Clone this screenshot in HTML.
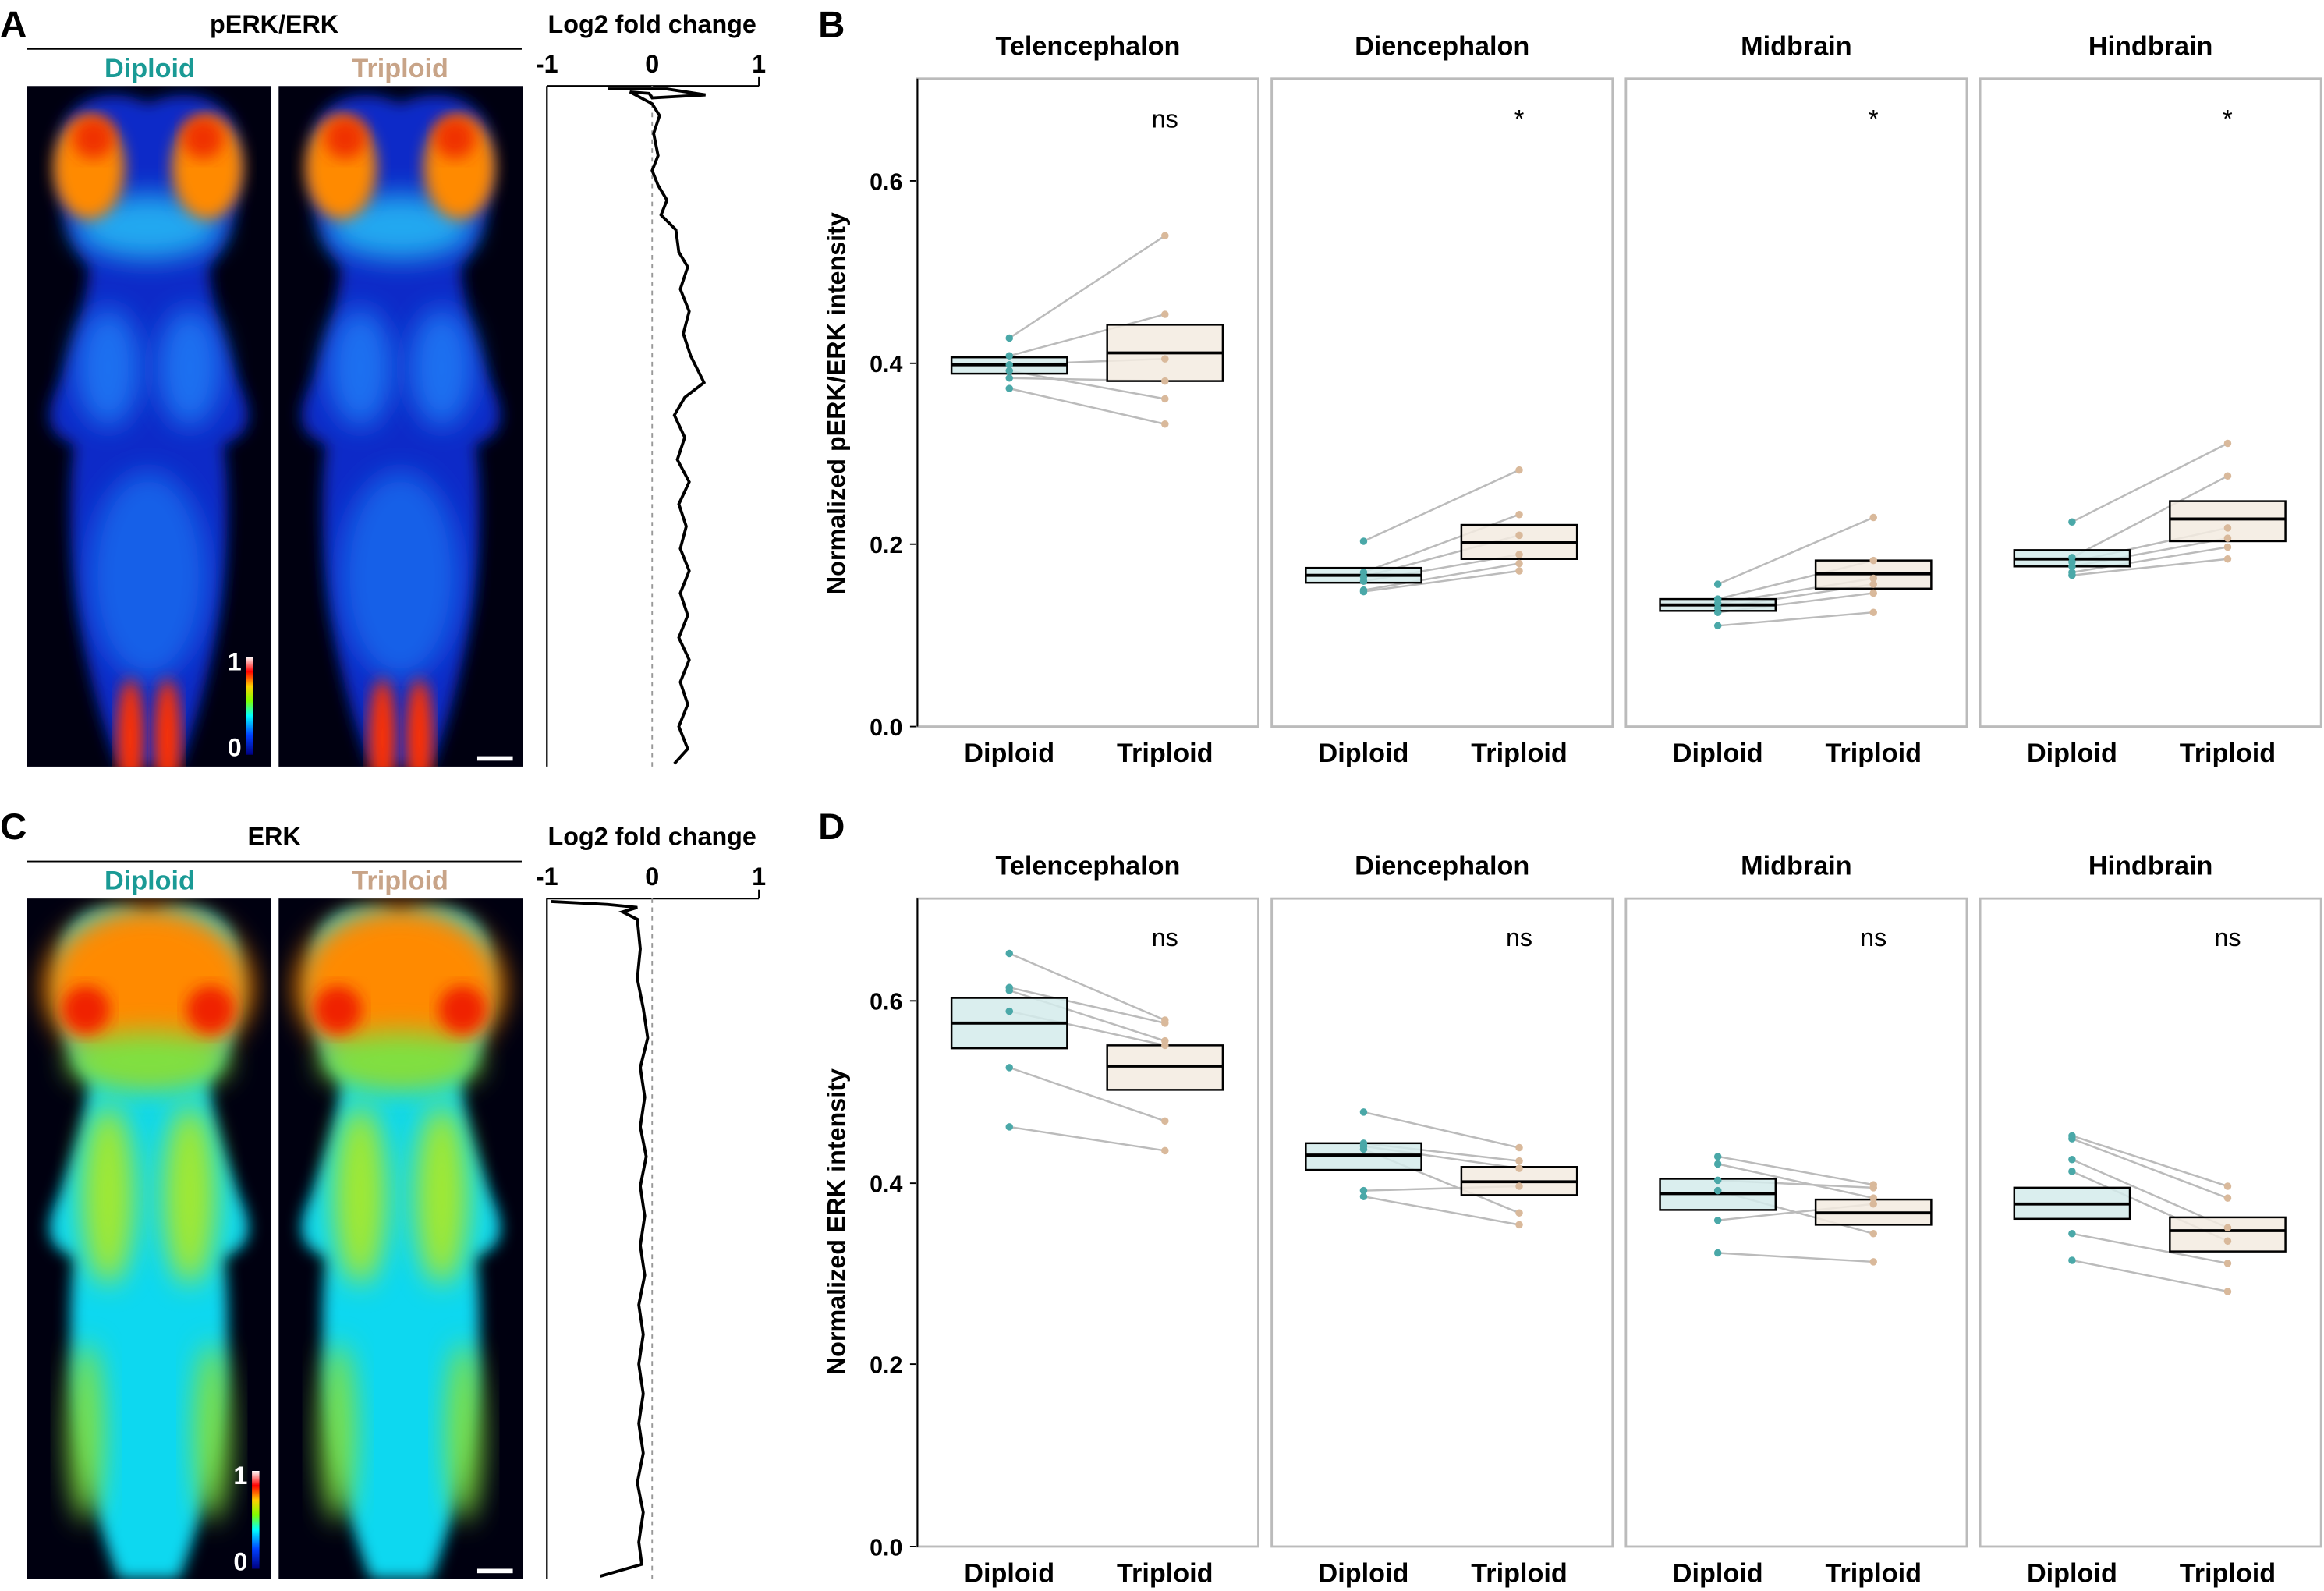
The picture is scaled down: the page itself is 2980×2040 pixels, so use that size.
<!DOCTYPE html>
<html><head><meta charset="utf-8"><style>
html,body{margin:0;padding:0;background:#fff;}
svg{display:block;}
text{font-family:"Liberation Sans",Arial,sans-serif;font-weight:bold;}
</style></head><body>
<svg width="2980" height="2040" viewBox="0 0 1568 1073" preserveAspectRatio="none" xmlns="http://www.w3.org/2000/svg">
<defs>
<filter id="bl" x="-20%" y="-20%" width="140%" height="140%"><feGaussianBlur stdDeviation="5"/></filter>
<filter id="bl2" x="-50%" y="-50%" width="200%" height="200%"><feGaussianBlur stdDeviation="9"/></filter>
<clipPath id="c1"><rect x="0" y="0" width="165" height="459"/></clipPath>
<linearGradient id="cb" x1="0" y1="1" x2="0" y2="0">
<stop offset="0" stop-color="#000080"/><stop offset="0.2" stop-color="#0040ff"/><stop offset="0.4" stop-color="#00ffff"/><stop offset="0.55" stop-color="#80ff00"/><stop offset="0.7" stop-color="#ffd000"/><stop offset="0.85" stop-color="#ff0000"/><stop offset="1" stop-color="#ffffff"/></linearGradient>
<path id="brain" d="M82 12 C60 0,25 5,22 40 C18 80,30 110,42 122 C40 150,32 170,22 200 C10 225,15 235,32 242 C25 300,32 380,62 459 L103 459 C133 380,140 300,133 242 C150 235,155 225,143 200 C133 170,125 150,123 122 C135 110,147 80,143 40 C140 5,105 0,82 12 Z"/>
<g id="perk">
<rect width="165" height="459" fill="#000010"/>
<g clip-path="url(#c1)">
<use href="#brain" fill="#0a2cc8" filter="url(#bl)"/>
<ellipse cx="55" cy="190" rx="22" ry="40" fill="#1a70f0" filter="url(#bl2)"/>
<ellipse cx="110" cy="190" rx="22" ry="40" fill="#1a70f0" filter="url(#bl2)"/>
<ellipse cx="82" cy="330" rx="40" ry="70" fill="#1660e8" filter="url(#bl2)"/>
<ellipse cx="82" cy="95" rx="50" ry="22" fill="#20a8f0" filter="url(#bl2)"/>
<ellipse cx="42" cy="55" rx="24" ry="35" fill="#ff8a00" filter="url(#bl)"/>
<ellipse cx="122" cy="55" rx="24" ry="35" fill="#ff8a00" filter="url(#bl)"/>
<ellipse cx="45" cy="35" rx="14" ry="14" fill="#f03000" filter="url(#bl)"/>
<ellipse cx="119" cy="35" rx="14" ry="14" fill="#f03000" filter="url(#bl)"/>
<ellipse cx="70" cy="440" rx="9" ry="40" fill="#ff3000" filter="url(#bl)"/>
<ellipse cx="95" cy="440" rx="9" ry="40" fill="#ff3000" filter="url(#bl)"/>
</g></g>
<g id="erk">
<rect width="165" height="459" fill="#000010"/>
<g clip-path="url(#c1)">
<use href="#brain" fill="#10d8f0" filter="url(#bl)"/>
<ellipse cx="82" cy="60" rx="70" ry="55" fill="#ff8a00" filter="url(#bl2)"/>
<ellipse cx="82" cy="110" rx="55" ry="20" fill="#80e040" filter="url(#bl2)"/>
<ellipse cx="40" cy="75" rx="16" ry="16" fill="#f02000" filter="url(#bl)"/>
<ellipse cx="124" cy="75" rx="16" ry="16" fill="#f02000" filter="url(#bl)"/>
<ellipse cx="55" cy="200" rx="18" ry="60" fill="#a0e830" filter="url(#bl2)"/>
<ellipse cx="110" cy="200" rx="18" ry="60" fill="#a0e830" filter="url(#bl2)"/>
<ellipse cx="40" cy="360" rx="12" ry="60" fill="#80e040" filter="url(#bl2)"/>
<ellipse cx="125" cy="360" rx="12" ry="60" fill="#80e040" filter="url(#bl2)"/>
</g></g>
</defs>

<!-- Panel A -->
<text x="0" y="25" font-size="25">A</text>
<text x="185" y="22" font-size="17" text-anchor="middle">pERK/ERK</text>
<line x1="18" y1="33" x2="352" y2="33" stroke="#000" stroke-width="1"/>
<text x="101" y="52" font-size="18" text-anchor="middle" fill="#1a9a95">Diploid</text>
<text x="270" y="52" font-size="18" text-anchor="middle" fill="#c8a488">Triploid</text>
<use href="#perk" x="18" y="58"/>
<use href="#perk" x="188" y="58"/>
<rect x="166" y="443" width="5" height="66" fill="url(#cb)"/>
<text x="163" y="452" font-size="17" text-anchor="end" fill="#fff">1</text>
<text x="163" y="510" font-size="17" text-anchor="end" fill="#fff">0</text>
<rect x="322" y="510" width="24" height="3" fill="#fff"/>
<text x="440" y="22" font-size="17" text-anchor="middle">Log2 fold change</text>
<text x="369" y="49" font-size="17" text-anchor="middle">-1</text>
<text x="440" y="49" font-size="17" text-anchor="middle">0</text>
<text x="512" y="49" font-size="17" text-anchor="middle">1</text>
<line x1="369" y1="58" x2="512" y2="58" stroke="#000" stroke-width="1.2"/>
<line x1="512" y1="52" x2="512" y2="58" stroke="#000"/>
<line x1="369" y1="58" x2="369" y2="517" stroke="#000" stroke-width="1.2"/>
<line x1="440" y1="58" x2="440" y2="517" stroke="#999" stroke-dasharray="3,3"/>
<polyline fill="none" stroke="#000" stroke-width="2" points="410,60 450,60 476,64 440,66 438,63 425,62 440,70 445,78 441,90 444,105 440,115 444,125 450,135 446,145 456,155 458,170 464,180 459,195 465,210 461,225 466,240 471,250 475,258 462,268 455,280 462,295 457,310 465,325 458,340 463,355 459,370 465,385 459,400 464,415 458,430 465,445 459,460 464,475 458,490 464,505 455,515"/>

<!-- Panel C -->
<text x="0" y="566" font-size="25">C</text>
<text x="185" y="570" font-size="17" text-anchor="middle">ERK</text>
<line x1="18" y1="581" x2="352" y2="581" stroke="#000" stroke-width="1"/>
<text x="101" y="600" font-size="18" text-anchor="middle" fill="#1a9a95">Diploid</text>
<text x="270" y="600" font-size="18" text-anchor="middle" fill="#c8a488">Triploid</text>
<use href="#erk" x="18" y="606"/>
<use href="#erk" x="188" y="606"/>
<rect x="170" y="992" width="5" height="66" fill="url(#cb)"/>
<text x="167" y="1001" font-size="17" text-anchor="end" fill="#fff">1</text>
<text x="167" y="1059" font-size="17" text-anchor="end" fill="#fff">0</text>
<rect x="322" y="1058" width="24" height="3" fill="#fff"/>
<text x="440" y="570" font-size="17" text-anchor="middle">Log2 fold change</text>
<text x="369" y="597" font-size="17" text-anchor="middle">-1</text>
<text x="440" y="597" font-size="17" text-anchor="middle">0</text>
<text x="512" y="597" font-size="17" text-anchor="middle">1</text>
<line x1="369" y1="606" x2="512" y2="606" stroke="#000" stroke-width="1.2"/>
<line x1="512" y1="600" x2="512" y2="606" stroke="#000"/>
<line x1="369" y1="606" x2="369" y2="1065" stroke="#000" stroke-width="1.2"/>
<line x1="440" y1="606" x2="440" y2="1065" stroke="#999" stroke-dasharray="3,3"/>
<polyline fill="none" stroke="#000" stroke-width="2" points="372,608 410,610 430,612 420,615 430,620 432,640 430,660 434,680 437,700 432,720 435,740 432,760 436,780 432,800 435,820 432,840 435,860 431,880 434,900 431,920 434,940 431,960 434,980 430,1000 434,1020 431,1040 433,1055 405,1063"/>

<!-- Panel B -->
<text x="552" y="25" font-size="25">B</text>
<text x="570" y="272" transform="rotate(-90 570 272)" text-anchor="middle" font-size="17">Normalized pERK/ERK intensity</text>
<g font-size="16" text-anchor="end">
<text x="609" y="496">0.0</text><text x="609" y="373">0.2</text><text x="609" y="251">0.4</text><text x="609" y="128">0.6</text>
</g>
<g stroke="#000"><line x1="614" y1="490" x2="619" y2="490"/><line x1="614" y1="367" x2="619" y2="367"/><line x1="614" y1="245" x2="619" y2="245"/><line x1="614" y1="122" x2="619" y2="122"/></g>

<!-- Panel D -->
<text x="552" y="566" font-size="25">D</text>
<text x="570" y="824" transform="rotate(-90 570 824)" text-anchor="middle" font-size="17">Normalized ERK intensity</text>
<g font-size="16" text-anchor="end">
<text x="609" y="1049">0.0</text><text x="609" y="926">0.2</text><text x="609" y="804">0.4</text><text x="609" y="681">0.6</text>
</g>
<g stroke="#000"><line x1="614" y1="1043" x2="619" y2="1043"/><line x1="614" y1="920" x2="619" y2="920"/><line x1="614" y1="798" x2="619" y2="798"/><line x1="614" y1="675" x2="619" y2="675"/></g>

<!-- Titles, frames, labels -->
<g font-size="18" text-anchor="middle">
<text x="734" y="37">Telencephalon</text><text x="973" y="37">Diencephalon</text><text x="1212" y="37">Midbrain</text><text x="1451" y="37">Hindbrain</text>
<text x="734" y="590">Telencephalon</text><text x="973" y="590">Diencephalon</text><text x="1212" y="590">Midbrain</text><text x="1451" y="590">Hindbrain</text>
<text x="681" y="514">Diploid</text><text x="786" y="514">Triploid</text>
<text x="920" y="514">Diploid</text><text x="1025" y="514">Triploid</text>
<text x="1159" y="514">Diploid</text><text x="1264" y="514">Triploid</text>
<text x="1398" y="514">Diploid</text><text x="1503" y="514">Triploid</text>
<text x="681" y="1067">Diploid</text><text x="786" y="1067">Triploid</text>
<text x="920" y="1067">Diploid</text><text x="1025" y="1067">Triploid</text>
<text x="1159" y="1067">Diploid</text><text x="1264" y="1067">Triploid</text>
<text x="1398" y="1067">Diploid</text><text x="1503" y="1067">Triploid</text>
</g>
<g font-size="17" text-anchor="middle">
<text x="786" y="86" style="font-weight:normal">ns</text>
<text x="1025" y="86" style="font-weight:normal">*</text>
<text x="1264" y="86" style="font-weight:normal">*</text>
<text x="1503" y="86" style="font-weight:normal">*</text>
<text x="786" y="638" style="font-weight:normal">ns</text>
<text x="1025" y="638" style="font-weight:normal">ns</text>
<text x="1264" y="638" style="font-weight:normal">ns</text>
<text x="1503" y="638" style="font-weight:normal">ns</text>
</g>
<g fill="none" stroke="#bbb" stroke-width="1.5">
<rect x="619" y="53" width="230" height="437"/><rect x="858" y="53" width="230" height="437"/><rect x="1097" y="53" width="230" height="437"/><rect x="1336" y="53" width="230" height="437"/>
<rect x="619" y="606" width="230" height="437"/><rect x="858" y="606" width="230" height="437"/><rect x="1097" y="606" width="230" height="437"/><rect x="1336" y="606" width="230" height="437"/>
</g>
<line x1="619" y1="53" x2="619" y2="490" stroke="#000"/><line x1="619" y1="606" x2="619" y2="1043" stroke="#000"/>

<!-- B Tel -->
<g transform="translate(619,0)">
<g stroke="#bbb" stroke-width="1.3"><line x1="62" y1="228" x2="167" y2="159"/><line x1="62" y1="240" x2="167" y2="212"/><line x1="62" y1="246" x2="167" y2="242"/><line x1="62" y1="250" x2="167" y2="269"/><line x1="62" y1="255" x2="167" y2="257"/><line x1="62" y1="262" x2="167" y2="286"/></g>
<rect x="23" y="241" width="78" height="11" fill="#d3ebeb" fill-opacity="0.85" stroke="#000" stroke-width="1.3"/><line x1="23" y1="246" x2="101" y2="246" stroke="#000" stroke-width="2"/>
<rect x="128" y="219" width="78" height="38" fill="#f3ebe1" fill-opacity="0.85" stroke="#000" stroke-width="1.3"/><line x1="128" y1="238" x2="206" y2="238" stroke="#000" stroke-width="2"/>
<g fill="#4aa8a8"><circle cx="62" cy="228" r="2.5"/><circle cx="62" cy="240" r="2.5"/><circle cx="62" cy="246" r="2.5"/><circle cx="62" cy="250" r="2.5"/><circle cx="62" cy="255" r="2.5"/><circle cx="62" cy="262" r="2.5"/></g>
<g fill="#d9b99b"><circle cx="167" cy="159" r="2.5"/><circle cx="167" cy="212" r="2.5"/><circle cx="167" cy="242" r="2.5"/><circle cx="167" cy="269" r="2.5"/><circle cx="167" cy="257" r="2.5"/><circle cx="167" cy="286" r="2.5"/></g>
</g>
<!-- B Dien -->
<g transform="translate(858,0)">
<g stroke="#bbb" stroke-width="1.3"><line x1="62" y1="365" x2="167" y2="317"/><line x1="62" y1="386" x2="167" y2="347"/><line x1="62" y1="389" x2="167" y2="361"/><line x1="62" y1="392" x2="167" y2="374"/><line x1="62" y1="398" x2="167" y2="380"/><line x1="62" y1="399" x2="167" y2="385"/></g>
<rect x="23" y="383" width="78" height="10" fill="#d3ebeb" fill-opacity="0.85" stroke="#000" stroke-width="1.3"/><line x1="23" y1="388" x2="101" y2="388" stroke="#000" stroke-width="2"/>
<rect x="128" y="354" width="78" height="23" fill="#f3ebe1" fill-opacity="0.85" stroke="#000" stroke-width="1.3"/><line x1="128" y1="366" x2="206" y2="366" stroke="#000" stroke-width="2"/>
<g fill="#4aa8a8"><circle cx="62" cy="365" r="2.5"/><circle cx="62" cy="386" r="2.5"/><circle cx="62" cy="389" r="2.5"/><circle cx="62" cy="392" r="2.5"/><circle cx="62" cy="398" r="2.5"/><circle cx="62" cy="399" r="2.5"/></g>
<g fill="#d9b99b"><circle cx="167" cy="317" r="2.5"/><circle cx="167" cy="347" r="2.5"/><circle cx="167" cy="361" r="2.5"/><circle cx="167" cy="374" r="2.5"/><circle cx="167" cy="380" r="2.5"/><circle cx="167" cy="385" r="2.5"/></g>
</g>
<!-- B Mid -->
<g transform="translate(1097,0)">
<g stroke="#bbb" stroke-width="1.3"><line x1="62" y1="394" x2="167" y2="349"/><line x1="62" y1="404" x2="167" y2="378"/><line x1="62" y1="407" x2="167" y2="390"/><line x1="62" y1="410" x2="167" y2="394"/><line x1="62" y1="413" x2="167" y2="400"/><line x1="62" y1="422" x2="167" y2="413"/></g>
<rect x="23" y="404" width="78" height="8" fill="#d3ebeb" fill-opacity="0.85" stroke="#000" stroke-width="1.3"/><line x1="23" y1="408" x2="101" y2="408" stroke="#000" stroke-width="2"/>
<rect x="128" y="378" width="78" height="19" fill="#f3ebe1" fill-opacity="0.85" stroke="#000" stroke-width="1.3"/><line x1="128" y1="387" x2="206" y2="387" stroke="#000" stroke-width="2"/>
<g fill="#4aa8a8"><circle cx="62" cy="394" r="2.5"/><circle cx="62" cy="404" r="2.5"/><circle cx="62" cy="407" r="2.5"/><circle cx="62" cy="410" r="2.5"/><circle cx="62" cy="413" r="2.5"/><circle cx="62" cy="422" r="2.5"/></g>
<g fill="#d9b99b"><circle cx="167" cy="349" r="2.5"/><circle cx="167" cy="378" r="2.5"/><circle cx="167" cy="390" r="2.5"/><circle cx="167" cy="394" r="2.5"/><circle cx="167" cy="400" r="2.5"/><circle cx="167" cy="413" r="2.5"/></g>
</g>
<!-- B Hind -->
<g transform="translate(1336,0)">
<g stroke="#bbb" stroke-width="1.3"><line x1="62" y1="352" x2="167" y2="299"/><line x1="62" y1="376" x2="167" y2="321"/><line x1="62" y1="379" x2="167" y2="356"/><line x1="62" y1="382" x2="167" y2="363"/><line x1="62" y1="386" x2="167" y2="369"/><line x1="62" y1="388" x2="167" y2="377"/></g>
<rect x="23" y="371" width="78" height="11" fill="#d3ebeb" fill-opacity="0.85" stroke="#000" stroke-width="1.3"/><line x1="23" y1="377" x2="101" y2="377" stroke="#000" stroke-width="2"/>
<rect x="128" y="338" width="78" height="27" fill="#f3ebe1" fill-opacity="0.85" stroke="#000" stroke-width="1.3"/><line x1="128" y1="350" x2="206" y2="350" stroke="#000" stroke-width="2"/>
<g fill="#4aa8a8"><circle cx="62" cy="352" r="2.5"/><circle cx="62" cy="376" r="2.5"/><circle cx="62" cy="379" r="2.5"/><circle cx="62" cy="382" r="2.5"/><circle cx="62" cy="386" r="2.5"/><circle cx="62" cy="388" r="2.5"/></g>
<g fill="#d9b99b"><circle cx="167" cy="299" r="2.5"/><circle cx="167" cy="321" r="2.5"/><circle cx="167" cy="356" r="2.5"/><circle cx="167" cy="363" r="2.5"/><circle cx="167" cy="369" r="2.5"/><circle cx="167" cy="377" r="2.5"/></g>
</g>

<!-- D Tel -->
<g transform="translate(619,0)">
<g stroke="#bbb" stroke-width="1.3"><line x1="62" y1="643" x2="167" y2="688"/><line x1="62" y1="666" x2="167" y2="690"/><line x1="62" y1="668" x2="167" y2="702"/><line x1="62" y1="682" x2="167" y2="705"/><line x1="62" y1="720" x2="167" y2="756"/><line x1="62" y1="760" x2="167" y2="776"/></g>
<rect x="23" y="673" width="78" height="34" fill="#d3ebeb" fill-opacity="0.85" stroke="#000" stroke-width="1.3"/><line x1="23" y1="690" x2="101" y2="690" stroke="#000" stroke-width="2"/>
<rect x="128" y="705" width="78" height="30" fill="#f3ebe1" fill-opacity="0.85" stroke="#000" stroke-width="1.3"/><line x1="128" y1="719" x2="206" y2="719" stroke="#000" stroke-width="2"/>
<g fill="#4aa8a8"><circle cx="62" cy="643" r="2.5"/><circle cx="62" cy="666" r="2.5"/><circle cx="62" cy="668" r="2.5"/><circle cx="62" cy="682" r="2.5"/><circle cx="62" cy="720" r="2.5"/><circle cx="62" cy="760" r="2.5"/></g>
<g fill="#d9b99b"><circle cx="167" cy="688" r="2.5"/><circle cx="167" cy="690" r="2.5"/><circle cx="167" cy="702" r="2.5"/><circle cx="167" cy="705" r="2.5"/><circle cx="167" cy="756" r="2.5"/><circle cx="167" cy="776" r="2.5"/></g>
</g>
<!-- D Dien -->
<g transform="translate(858,0)">
<g stroke="#bbb" stroke-width="1.3"><line x1="62" y1="750" x2="167" y2="774"/><line x1="62" y1="771" x2="167" y2="783"/><line x1="62" y1="773" x2="167" y2="788"/><line x1="62" y1="775" x2="167" y2="818"/><line x1="62" y1="803" x2="167" y2="800"/><line x1="62" y1="807" x2="167" y2="826"/></g>
<rect x="23" y="771" width="78" height="18" fill="#d3ebeb" fill-opacity="0.85" stroke="#000" stroke-width="1.3"/><line x1="23" y1="779" x2="101" y2="779" stroke="#000" stroke-width="2"/>
<rect x="128" y="787" width="78" height="19" fill="#f3ebe1" fill-opacity="0.85" stroke="#000" stroke-width="1.3"/><line x1="128" y1="797" x2="206" y2="797" stroke="#000" stroke-width="2"/>
<g fill="#4aa8a8"><circle cx="62" cy="750" r="2.5"/><circle cx="62" cy="771" r="2.5"/><circle cx="62" cy="773" r="2.5"/><circle cx="62" cy="775" r="2.5"/><circle cx="62" cy="803" r="2.5"/><circle cx="62" cy="807" r="2.5"/></g>
<g fill="#d9b99b"><circle cx="167" cy="774" r="2.5"/><circle cx="167" cy="783" r="2.5"/><circle cx="167" cy="788" r="2.5"/><circle cx="167" cy="800" r="2.5"/><circle cx="167" cy="818" r="2.5"/><circle cx="167" cy="826" r="2.5"/></g>
</g>
<!-- D Mid -->
<g transform="translate(1097,0)">
<g stroke="#bbb" stroke-width="1.3"><line x1="62" y1="780" x2="167" y2="799"/><line x1="62" y1="785" x2="167" y2="808"/><line x1="62" y1="796" x2="167" y2="801"/><line x1="62" y1="803" x2="167" y2="832"/><line x1="62" y1="823" x2="167" y2="812"/><line x1="62" y1="845" x2="167" y2="851"/></g>
<rect x="23" y="795" width="78" height="21" fill="#d3ebeb" fill-opacity="0.85" stroke="#000" stroke-width="1.3"/><line x1="23" y1="805" x2="101" y2="805" stroke="#000" stroke-width="2"/>
<rect x="128" y="809" width="78" height="17" fill="#f3ebe1" fill-opacity="0.85" stroke="#000" stroke-width="1.3"/><line x1="128" y1="818" x2="206" y2="818" stroke="#000" stroke-width="2"/>
<g fill="#4aa8a8"><circle cx="62" cy="780" r="2.5"/><circle cx="62" cy="785" r="2.5"/><circle cx="62" cy="796" r="2.5"/><circle cx="62" cy="803" r="2.5"/><circle cx="62" cy="823" r="2.5"/><circle cx="62" cy="845" r="2.5"/></g>
<g fill="#d9b99b"><circle cx="167" cy="799" r="2.5"/><circle cx="167" cy="801" r="2.5"/><circle cx="167" cy="808" r="2.5"/><circle cx="167" cy="812" r="2.5"/><circle cx="167" cy="832" r="2.5"/><circle cx="167" cy="851" r="2.5"/></g>
</g>
<!-- D Hind -->
<g transform="translate(1336,0)">
<g stroke="#bbb" stroke-width="1.3"><line x1="62" y1="766" x2="167" y2="800"/><line x1="62" y1="768" x2="167" y2="808"/><line x1="62" y1="782" x2="167" y2="828"/><line x1="62" y1="790" x2="167" y2="837"/><line x1="62" y1="832" x2="167" y2="852"/><line x1="62" y1="850" x2="167" y2="871"/></g>
<rect x="23" y="801" width="78" height="21" fill="#d3ebeb" fill-opacity="0.85" stroke="#000" stroke-width="1.3"/><line x1="23" y1="812" x2="101" y2="812" stroke="#000" stroke-width="2"/>
<rect x="128" y="821" width="78" height="23" fill="#f3ebe1" fill-opacity="0.85" stroke="#000" stroke-width="1.3"/><line x1="128" y1="830" x2="206" y2="830" stroke="#000" stroke-width="2"/>
<g fill="#4aa8a8"><circle cx="62" cy="766" r="2.5"/><circle cx="62" cy="768" r="2.5"/><circle cx="62" cy="782" r="2.5"/><circle cx="62" cy="790" r="2.5"/><circle cx="62" cy="832" r="2.5"/><circle cx="62" cy="850" r="2.5"/></g>
<g fill="#d9b99b"><circle cx="167" cy="800" r="2.5"/><circle cx="167" cy="808" r="2.5"/><circle cx="167" cy="828" r="2.5"/><circle cx="167" cy="837" r="2.5"/><circle cx="167" cy="852" r="2.5"/><circle cx="167" cy="871" r="2.5"/></g>
</g>
</svg>
</body></html>
